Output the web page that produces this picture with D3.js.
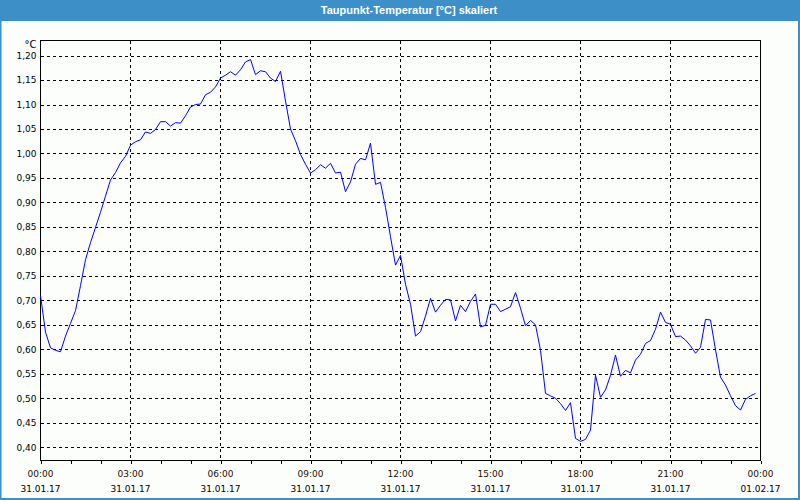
<!DOCTYPE html>
<html><head><meta charset="utf-8">
<script src="https://cdn.jsdelivr.net/npm/d3@7"></script>
<style>
html,body{margin:0;padding:0;background:#fcfefc;}
svg{display:block;}
text{font-family:"DejaVu Sans",Verdana,sans-serif;}
</style></head>
<body>
<svg id="chart" width="800" height="500"></svg>
<script>
// 10-minute samples, 31.01.17 00:00 .. 23:50
const values = [
0.710,0.635,0.603,0.598,0.595,0.627,0.653,0.679,0.730,0.783,
0.818,0.849,0.880,0.913,0.946,0.961,0.981,0.994,1.017,1.024,
1.028,1.044,1.041,1.049,1.065,1.065,1.056,1.063,1.062,1.077,
1.095,1.100,1.101,1.120,1.125,1.136,1.154,1.160,1.167,1.160,
1.171,1.187,1.192,1.161,1.169,1.167,1.154,1.147,1.168,1.107,
1.050,1.026,0.998,0.978,0.960,0.967,0.977,0.970,0.980,0.960,
0.962,0.922,0.942,0.978,0.990,0.987,1.021,0.937,0.941,0.890,
0.830,0.772,0.792,0.733,0.692,0.627,0.636,0.668,0.704,0.676,
0.690,0.702,0.701,0.658,0.690,0.677,0.698,0.713,0.646,0.649,
0.692,0.692,0.677,0.682,0.687,0.716,0.684,0.648,0.659,0.650,
0.598,0.510,0.505,0.500,0.489,0.475,0.491,0.418,0.412,0.416,
0.435,0.547,0.502,0.517,0.547,0.588,0.545,0.557,0.552,0.578,
0.590,0.612,0.618,0.641,0.676,0.655,0.651,0.626,0.627,0.619,
0.607,0.592,0.604,0.661,0.660,0.599,0.543,0.527,0.505,0.485,
0.476,0.498,0.505,0.510
];
const yTicks = [0.40,0.45,0.50,0.55,0.60,0.65,0.70,0.75,0.80,0.85,0.90,0.95,1.00,1.05,1.10,1.15,1.20];
const xTimeLabels = ["00:00","03:00","06:00","09:00","12:00","15:00","18:00","21:00","00:00"];
const xDateLabels = ["31.01.17","31.01.17","31.01.17","31.01.17","31.01.17","31.01.17","31.01.17","31.01.17","01.02.17"];
const title = "Taupunkt-Temperatur [°C] skaliert";
const unit = "°C";

const svg = d3.select("#chart");
const W = 800, H = 500;
const pL = 40.5, pR = 760.5, pT = 40.5, pB = 460.5;
const FS = "9px";

const t0 = new Date(2017,0,31,0,0);
const t1 = new Date(2017,1,1,0,0);
const x = d3.scaleTime().domain([t0,t1]).range([pL,pR]);
const y = d3.scaleLinear().domain([0.3729,1.2308]).range([pB,pT]);

const data = values.map((v,i)=>({t:new Date(t0.getTime()+i*600000), v}));

// frame
svg.append("rect").attr("x",0).attr("y",0).attr("width",W).attr("height",H).attr("fill","#fcfefc");
svg.append("rect").attr("x",0).attr("y",0).attr("width",W).attr("height",21).attr("fill","#3d90c7");
svg.append("rect").attr("x",0).attr("y",0).attr("width",1.5).attr("height",H).attr("fill","#3d90c7");
svg.append("rect").attr("x",W-2).attr("y",0).attr("width",2).attr("height",H).attr("fill","#3d90c7");
svg.append("rect").attr("x",0).attr("y",H-2).attr("width",W).attr("height",2).attr("fill","#3d90c7");
svg.append("text").attr("x",409).attr("y",14).attr("text-anchor","middle")
  .attr("fill","#fff").attr("font-size","11px").attr("font-weight","bold")
  .style("font-family","'Liberation Sans',Arial,sans-serif").text(title);

// grid
const g = svg.append("g");
g.selectAll(".hg").data(yTicks).join("line")
  .attr("x1",pL).attr("x2",pR)
  .attr("y1",d=>Math.round(y(d))+0.5).attr("y2",d=>Math.round(y(d))+0.5)
  .attr("stroke","#000").attr("stroke-dasharray","3,3").attr("shape-rendering","crispEdges");
const majors = d3.timeHour.every(3).range(t0, t1);
g.selectAll(".vg").data(majors.slice(1)).join("line")
  .attr("x1",d=>Math.round(x(d)-0.5)+0.5).attr("x2",d=>Math.round(x(d)-0.5)+0.5)
  .attr("y1",pT).attr("y2",pB)
  .attr("stroke","#000").attr("stroke-dasharray","3,3").attr("shape-rendering","crispEdges");

// y axis labels
const yAxis = d3.axisLeft(y).tickValues(yTicks).tickSize(0).tickPadding(4)
  .tickFormat(d=>d3.format(".2f")(d).replace(".",","));
const ya = svg.append("g").attr("transform",`translate(${pL},0)`).call(yAxis);
ya.select(".domain").remove();
ya.selectAll("text").attr("font-size",FS).attr("fill","#000").style("font-family","'DejaVu Sans',sans-serif");
svg.append("text").attr("x",pL-4).attr("y",48).attr("text-anchor","end")
  .attr("font-size","10px").attr("fill","#000").text(unit);

// x axis ticks
const xAxis = d3.axisBottom(x).ticks(d3.timeHour.every(1)).tickSize(3).tickFormat("");
const xa = svg.append("g").attr("transform",`translate(0,${pB})`).call(xAxis);
xa.select(".domain").remove();
xa.selectAll("line").attr("stroke","#000").attr("shape-rendering","crispEdges");
const majorsAll = d3.timeHour.every(3).range(t0, new Date(t1.getTime()+1));
svg.selectAll(".xl1").data(majorsAll).join("text")
  .attr("x",d=>x(d)).attr("y",477).attr("text-anchor","middle")
  .attr("font-size",FS).attr("fill","#1a1000").text((d,i)=>xTimeLabels[i]);
svg.selectAll(".xl2").data(majorsAll).join("text")
  .attr("x",d=>x(d)).attr("y",492).attr("text-anchor","middle")
  .attr("font-size",FS).attr("fill","#000").text((d,i)=>xDateLabels[i]);

// plot border
svg.append("rect").attr("x",pL).attr("y",pT).attr("width",pR-pL).attr("height",pB-pT)
  .attr("fill","none").attr("stroke","#000").attr("shape-rendering","crispEdges");

// line
const line = d3.line().x(d=>x(d.t)).y(d=>y(d.v));
svg.append("path").datum(data).attr("d",line).attr("fill","none")
  .attr("stroke","#0000ff").attr("stroke-width",1);
</script>
</body></html>
